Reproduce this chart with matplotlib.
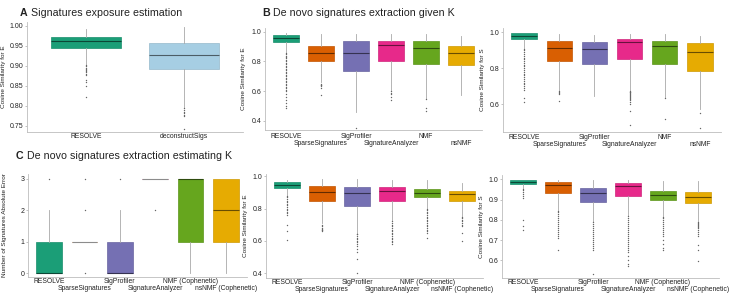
import matplotlib
matplotlib.use("Agg")
import numpy as np
from matplotlib import pyplot as plt
from matplotlib.colors import to_rgb

plt.rcParams['font.family'] = ['Liberation Sans', 'DejaVu Sans']

W, H = 730, 294

# Dark2-like palette
col_resolve = "#1b9e77"
col_decon = "#a6cee3"
col_sparse = "#d95f02"
col_sigprof = "#7570b3"
col_sigan = "#e7298a"
col_nmf = "#66a61e"
col_nsnmf = "#e6ab02"
six_cols = [col_resolve, col_sparse, col_sigprof, col_sigan, col_nmf, col_nsnmf]

methods = ["RESOLVE", "SparseSignatures", "SigProfiler", "SignatureAnalyzer", "NMF", "nsNMF"]
methods_k = ["RESOLVE", "SparseSignatures", "SigProfiler", "SignatureAnalyzer",
             "NMF (Cophenetic)", "nsNMF (Cophenetic)"]

# ---- A: exposure estimation
a_labels = ["RESOLVE", "deconstructSigs"]
a_q1 = [0.945, 0.892]
a_med = [0.9625, 0.9275]
a_q3 = [0.973, 0.957]
a_lo = [0.904, 0.797]
a_hi = [0.992, 0.997]
a_fliers = [[0.902, 0.899, 0.896, 0.893, 0.890, 0.887, 0.884, 0.881, 0.878, 0.865, 0.861, 0.851, 0.822],
            [0.794, 0.790, 0.786, 0.782, 0.778, 0.774, 0.742]]

# ---- B1: given K, similarity for E
b1_q1 = [0.933, 0.803, 0.738, 0.805, 0.783, 0.774]
b1_med = [0.958, 0.857, 0.857, 0.910, 0.888, 0.855]
b1_q3 = [0.978, 0.904, 0.937, 0.940, 0.937, 0.904]
b1_lo = [0.866, 0.664, 0.462, 0.608, 0.552, 0.575]
b1_hi = [0.993, 0.985, 0.985, 0.985, 0.985, 0.970]
b1_fliers = [[0.86, 0.85, 0.84, 0.83, 0.82, 0.81, 0.80, 0.79, 0.78, 0.77, 0.76, 0.75, 0.74, 0.73,
              0.72, 0.71, 0.70, 0.69, 0.68, 0.67, 0.66, 0.65, 0.64, 0.63, 0.62, 0.61, 0.60,
              0.58, 0.56, 0.54, 0.52, 0.50, 0.485],
             [0.65, 0.645, 0.64, 0.635, 0.62, 0.575],
             [0.355],
             [0.60, 0.59, 0.58, 0.56, 0.54],
             [0.545, 0.49, 0.47],
             []]

# ---- B2: given K, similarity for S
b2_q1 = [0.965, 0.838, 0.825, 0.851, 0.826, 0.784]
b2_med = [0.983, 0.912, 0.907, 0.948, 0.925, 0.890]
b2_q3 = [0.997, 0.950, 0.946, 0.963, 0.950, 0.940]
b2_lo = [0.912, 0.679, 0.645, 0.679, 0.638, 0.570]
b2_hi = [0.999, 0.990, 0.985, 0.990, 0.990, 0.980]
b2_fliers = [[0.91, 0.90, 0.89, 0.88, 0.87, 0.86, 0.85, 0.84, 0.83, 0.82, 0.81, 0.80, 0.79,
              0.78, 0.77, 0.76, 0.75, 0.74, 0.73, 0.72, 0.71, 0.70, 0.69, 0.68, 0.636, 0.613],
             [0.672, 0.665, 0.66, 0.655, 0.617],
             [],
             [0.675, 0.67, 0.665, 0.66, 0.655, 0.65, 0.645, 0.64, 0.635, 0.63, 0.62, 0.61,
              0.60, 0.563, 0.483],
             [0.634, 0.516],
             [0.548, 0.468]]

# ---- C: estimating K, absolute error in number of signatures
c_q1 = [0, 1, 0, 3, 1, 1]
c_med = [0, 1, 0, 3, 3, 2]
c_q3 = [1, 1, 1, 3, 3, 3]
c_lo = [0, 1, 0, 3, 0, 0]
c_hi = [2, 1, 2, 3, 3, 3]
c_fliers = [[3], [3, 2, 0], [3], [2], [], []]

# ---- D1: estimating K, similarity for E
d1_q1 = [0.928, 0.849, 0.814, 0.845, 0.872, 0.845]
d1_med = [0.948, 0.903, 0.897, 0.907, 0.900, 0.890]
d1_q3 = [0.963, 0.942, 0.934, 0.932, 0.922, 0.911]
d1_lo = [0.886, 0.710, 0.648, 0.731, 0.804, 0.752]
d1_hi = [0.980, 0.985, 0.985, 0.975, 0.975, 0.960]
d1_fliers = [[0.88, 0.87, 0.86, 0.85, 0.84, 0.83, 0.82, 0.81, 0.80, 0.79, 0.78, 0.77, 0.76,
              0.70, 0.658, 0.607],
             [0.70, 0.69, 0.68, 0.675, 0.67, 0.665, 0.66],
             [0.645, 0.64, 0.63, 0.62, 0.61, 0.60, 0.59, 0.58, 0.57, 0.55, 0.53, 0.487, 0.40],
             [0.72, 0.71, 0.70, 0.69, 0.68, 0.67, 0.66, 0.65, 0.64, 0.63, 0.62, 0.61, 0.60,
              0.59, 0.58],
             [0.80, 0.79, 0.78, 0.77, 0.76, 0.75, 0.74, 0.73, 0.72, 0.71, 0.70, 0.69, 0.68,
              0.67, 0.66, 0.65, 0.617],
             [0.75, 0.74, 0.73, 0.72, 0.71, 0.70, 0.69, 0.648, 0.596]]

# ---- D2: estimating K, similarity for S
d2_q1 = [0.978, 0.935, 0.891, 0.919, 0.896, 0.883]
d2_med = [0.989, 0.973, 0.935, 0.968, 0.924, 0.915]
d2_q3 = [0.9975, 0.989, 0.960, 0.981, 0.945, 0.937]
d2_lo = [0.957, 0.850, 0.792, 0.825, 0.820, 0.797]
d2_hi = [0.999, 0.998, 0.995, 0.998, 0.990, 0.990]
d2_fliers = [[0.955, 0.95, 0.94, 0.93, 0.92, 0.91, 0.80, 0.771, 0.751],
             [0.845, 0.84, 0.83, 0.82, 0.81, 0.80, 0.79, 0.78, 0.77, 0.76, 0.75, 0.74, 0.73,
              0.72, 0.71, 0.649],
             [0.79, 0.78, 0.77, 0.76, 0.75, 0.74, 0.73, 0.72, 0.71, 0.70, 0.69, 0.68, 0.67,
              0.66, 0.65, 0.533],
             [0.82, 0.81, 0.80, 0.79, 0.78, 0.77, 0.76, 0.75, 0.74, 0.73, 0.72, 0.71, 0.70,
              0.69, 0.68, 0.67, 0.66, 0.65, 0.64, 0.62, 0.60, 0.58, 0.57],
             [0.815, 0.81, 0.80, 0.79, 0.78, 0.77, 0.76, 0.75, 0.74, 0.73, 0.72, 0.70, 0.68,
              0.66, 0.65],
             [0.79, 0.785, 0.78, 0.775, 0.77, 0.765, 0.76, 0.75, 0.74, 0.73, 0.72, 0.677,
              0.65, 0.595]]


def shade(c, f):
    r, g, b = to_rgb(c)
    return (r * f, g * f, b * f)


def add_ax(fig, left, top, right, bottom):
    return fig.add_axes([left / W, 1 - bottom / H, (right - left) / W, (bottom - top) / H])


def draw_panel(ax, labels, q1, med, q3, lo, hi, fliers, colors, ylim, yticks, ylabel, lab_px,
               row1=-1.5, row2=-7.0, dodge=True):
    stats = []
    for i in range(len(labels)):
        stats.append(dict(med=med[i], q1=q1[i], q3=q3[i], whislo=lo[i], whishi=hi[i],
                          fliers=fliers[i], label=labels[i]))
    n = len(labels)
    bp = ax.bxp(stats, positions=list(range(n)), widths=0.72, patch_artist=True, showcaps=False,
                flierprops=dict(marker='o', markersize=1.0, markerfacecolor='#666666',
                                markeredgecolor='none'),
                whiskerprops=dict(color='#a8a8a8', linewidth=0.6))
    for i, box in enumerate(bp['boxes']):
        box.set_facecolor(colors[i])
        box.set_edgecolor(shade(colors[i], 0.9))
        box.set_linewidth(0.5)
        if q1[i] == q3[i]:
            bp['medians'][i].set_color('#8c8c8c')
        else:
            bp['medians'][i].set_color(shade(colors[i], 0.45))
        bp['medians'][i].set_linewidth(0.8)
    ax.set_xlim(-0.6, n - 1 + 0.6)
    ax.set_ylim(*ylim)
    ax.set_yticks(yticks)
    # category labels, alternating between two rows
    ax.set_xticklabels([""] * n)
    for i, l in enumerate(labels):
        dy = row2 if (dodge and i % 2 == 1) else row1
        ax.annotate(l, xy=(i, 0), xycoords=('data', 'axes fraction'), xytext=(0, dy),
                    textcoords='offset points', ha='center', va='top', fontsize=4.85,
                    color='#222222', annotation_clip=False)
    ax.tick_params(axis='both', labelsize=5.0, length=1.5, width=0.5, colors='#aaaaaa',
                   labelcolor='#222222', pad=1.2)
    ax.tick_params(axis='x', length=0)
    for s in ['top', 'right']:
        ax.spines[s].set_visible(False)
    for s in ['left', 'bottom']:
        ax.spines[s].set_color('#bdbdbd')
        ax.spines[s].set_linewidth(0.6)
    ax.set_ylabel(ylabel, fontsize=4.6, color='#222222')
    bb = ax.get_position()
    ax.yaxis.set_label_coords(-lab_px / (bb.width * W), 0.5)


fig = plt.figure(figsize=(7.3, 2.94), dpi=100)

axA = add_ax(fig, 27, 22, 243, 132)
draw_panel(axA, a_labels, a_q1, a_med, a_q3, a_lo, a_hi, a_fliers, [col_resolve, col_decon],
           (0.735, 1.01), [0.75, 0.80, 0.85, 0.90, 0.95, 1.00], "Cosine Similarity for E", 21,
           row1=-1.0, dodge=False)
axA.set_yticklabels(["0.75", "0.80", "0.85", "0.90", "0.95", "1.00"])

axB1 = add_ax(fig, 265, 28, 482, 130)
draw_panel(axB1, methods, b1_q1, b1_med, b1_q3, b1_lo, b1_hi, b1_fliers, six_cols,
           (0.339, 1.025), [0.4, 0.6, 0.8, 1.0], "Cosine Similarity for E", 19,
           row1=-2.0, row2=-7.4)

axB2 = add_ax(fig, 503, 28, 721, 132)
draw_panel(axB2, methods, b2_q1, b2_med, b2_q3, b2_lo, b2_hi, b2_fliers, six_cols,
           (0.444, 1.025), [0.6, 0.8, 1.0], "Cosine Similarity for S", 18,
           row1=-1.2, row2=-6.6)

axC = add_ax(fig, 28, 174, 247, 277)
draw_panel(axC, methods_k, c_q1, c_med, c_q3, c_lo, c_hi, c_fliers, six_cols,
           (-0.12, 3.15), [0, 1, 2, 3], "Number of Signatures Absolute Error", 21,
           row1=-0.8, row2=-5.8)

axD1 = add_ax(fig, 266, 174, 483, 278)
draw_panel(axD1, methods_k, d1_q1, d1_med, d1_q3, d1_lo, d1_hi, d1_fliers, six_cols,
           (0.369, 1.015), [0.4, 0.6, 0.8, 1.0], "Cosine Similarity for E", 18,
           row1=-0.6, row2=-5.5)

axD2 = add_ax(fig, 502, 175, 719, 278)
draw_panel(axD2, methods_k, d2_q1, d2_med, d2_q3, d2_lo, d2_hi, d2_fliers, six_cols,
           (0.513, 1.022), [0.6, 0.7, 0.8, 0.9, 1.0], "Cosine Similarity for S", 18,
           row1=-0.6, row2=-5.5)

# panel titles
titles = [("A", "Signatures exposure estimation", 20, 13),
          ("B", "De novo signatures extraction given K", 262, 13),
          ("C", "De novo signatures extraction estimating K", 16, 156)]
for letter, text, x, y in titles:
    fig.text(x / W, 1 - y / H, letter, fontsize=7.7, fontweight='bold', va='center', ha='left',
             color='#222222')
    fig.text((x + 11) / W, 1 - y / H, text, fontsize=7.7, va='center', ha='left', color='#222222')

fig.savefig("out.png", dpi=100)
